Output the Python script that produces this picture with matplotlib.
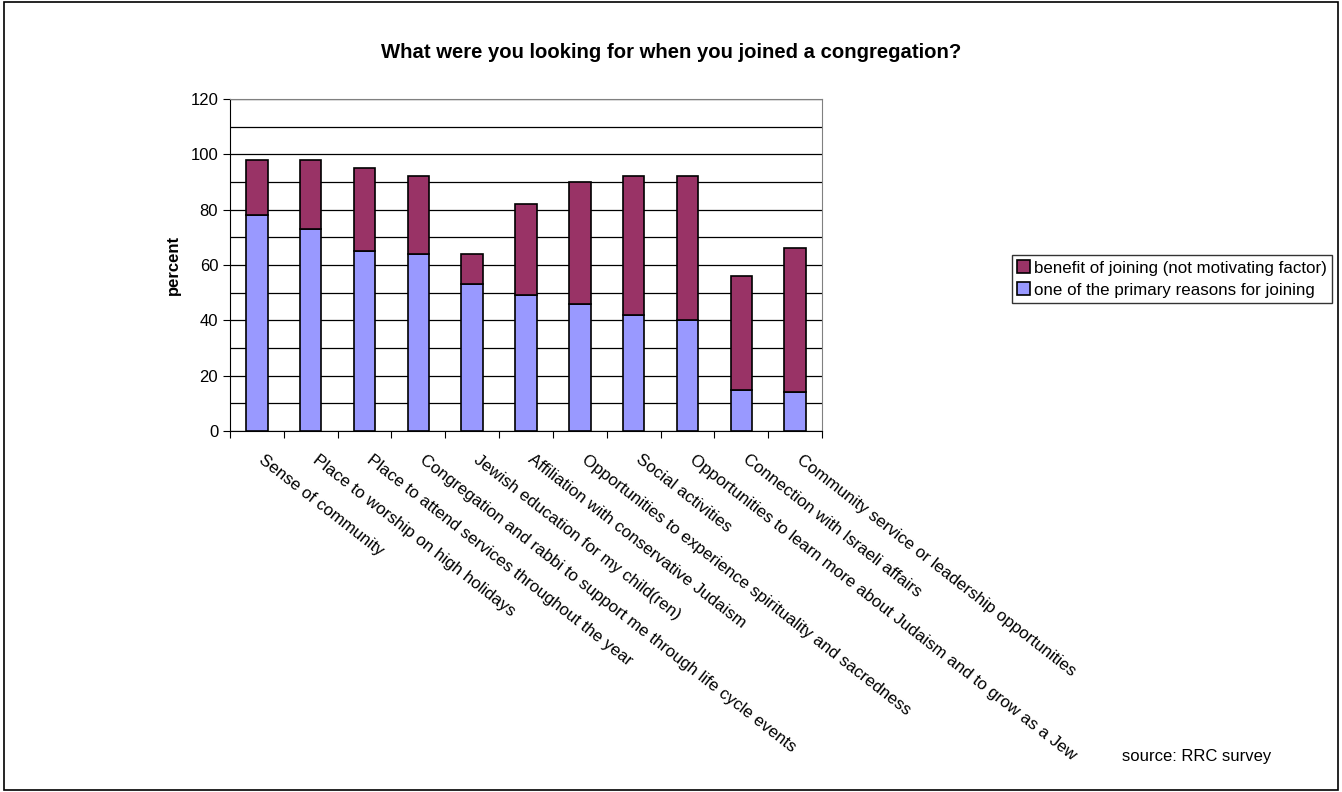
import numpy as np
import matplotlib
matplotlib.use("Agg")
import matplotlib.pyplot as plt
from matplotlib.patches import Rectangle

plt.rcParams["font.family"] = ["Liberation Sans", "DejaVu Sans"]

categories = [
    "Sense of community",
    "Place to worship on high holidays",
    "Place to attend services throughout the year",
    "Congregation and rabbi to support me through life cycle events",
    "Jewish education for my child(ren)",
    "Affiliation with conservative Judaism",
    "Opportunities to experience spirituality and sacredness",
    "Social activities",
    "Opportunities to learn more about Judaism and to grow as a Jew",
    "Connection with Israeli affairs",
    "Community service or leadership opportunities",
]
primary = [78, 73, 65, 64, 53, 49, 46, 42, 40, 15, 14]
totals = [98, 98, 95, 92, 64, 82, 90, 92, 92, 56, 66]
benefit = [t - p for t, p in zip(totals, primary)]

fig = plt.figure(figsize=(13.42, 7.92), dpi=100)
# outer frame around the whole chart
fig.patches.append(Rectangle((0.003, 0.003), 0.994, 0.994, transform=fig.transFigure,
                             fill=False, edgecolor="black", linewidth=1.2))

W, H = 1342, 792
ax = fig.add_axes([230 / W, 1 - 431 / H, (822 - 230) / W, (431 - 99) / H])

x = np.arange(len(categories))
ax.bar(x, primary, width=0.4, color="#9999FF", edgecolor="black", linewidth=1.2,
       label="one of the primary reasons for joining", zorder=3)
ax.bar(x, benefit, bottom=primary, width=0.4, color="#993366", edgecolor="black",
       linewidth=1.2, label="benefit of joining (not motivating factor)", zorder=3)

ax.set_xlim(-0.5, len(categories) - 0.5)
ax.set_ylim(0, 120)
ax.set_yticks(range(0, 121, 20))
ax.set_yticks(range(0, 121, 10), minor=True)
ax.yaxis.grid(True, which="both", color="black", linewidth=0.9, zorder=0)
ax.tick_params(axis="y", which="major", direction="out", length=5, labelsize=12)
ax.tick_params(axis="y", which="minor", length=0)

# category ticks sit on the boundaries, labels at the bar centres
ax.set_xticks(np.arange(len(categories) + 1) - 0.5)
ax.set_xticklabels([])
ax.tick_params(axis="x", direction="out", length=5)
for i, lab in enumerate(categories):
    ax.annotate(lab, xy=(i, 0), xycoords=("data", "axes fraction"),
                xytext=(6, -15), textcoords="offset points",
                rotation=-38, ha="left", va="top", rotation_mode="anchor",
                fontsize=12.2)

for side in ["top", "right"]:
    ax.spines[side].set_color("#808080")
ax.spines["left"].set_color("black")
ax.spines["bottom"].set_color("black")

ax.set_ylabel("percent", fontsize=12, fontweight="bold", labelpad=7)

fig.text(0.5, 1 - 53 / H, "What were you looking for when you joined a congregation?",
         ha="center", va="center", fontsize=14.6, fontweight="bold")

handles, labels = ax.get_legend_handles_labels()
leg = fig.legend(handles[::-1], labels[::-1], loc="center left",
                 bbox_to_anchor=(1012 / W, 1 - 279 / H), fontsize=12.2,
                 frameon=True, fancybox=False, edgecolor="black",
                 handlelength=0.75, handleheight=0.75, handletextpad=0.25,
                 borderpad=0.3, labelspacing=0.4, borderaxespad=0)
leg.get_frame().set_linewidth(1.0)

fig.text(1122 / W, 1 - 757 / H, "source: RRC survey", ha="left", va="center",
         fontsize=12)

fig.savefig("out.png", dpi=100)
